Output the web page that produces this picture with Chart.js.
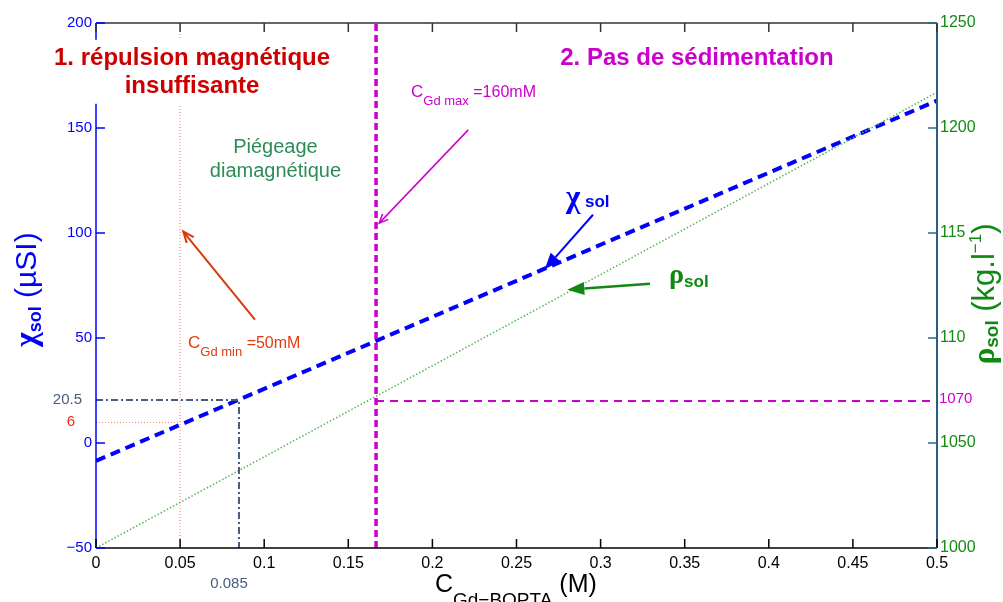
<!DOCTYPE html>
<html>
<head>
<meta charset="utf-8">
<script src="https://cdn.jsdelivr.net/npm/chart.js@4.4.0/dist/chart.umd.min.js"></script>
<style>
  html, body { margin: 0; padding: 0; background: #fff; }
</style>
</head>
<body>
<canvas id="chart" width="1003" height="602"></canvas>
<script>
// concentration C Gd-BOPTA (M)
const concentration = [0, 0.5]
// susceptibility chi sol (µSI), left axis
const chiSol = [-8.5, 163]
// density rho sol (kg/l), right axis
const rhoSol = [1000, 1217]

// marked values
const cGdMin = 0.05
const cGdMax = 0.1665
const cCross = 0.085
const chiAtMin = 9.8
const chiAtCross = 20.5
const rhoLimit = 1070

// tick values and labels
const xTicks = [0, 0.05, 0.1, 0.15, 0.2, 0.25, 0.3, 0.35, 0.4, 0.45, 0.5]
const xTickLabels = ['0', '0.05', '0.1', '0.15', '0.2', '0.25', '0.3', '0.35', '0.4', '0.45', '0.5']
const leftTicks = [-50, 0, 50, 100, 150, 200]
const leftTickLabels = ['\u221250', '0', '50', '100', '150', '200']
const rightTicks = [1000, 1050, 1100, 1150, 1200, 1250]
const rightTickLabels = ['1000', '1050', '110', '115', '1200', '1250']

const SANS = '"Liberation Sans", Arial, sans-serif'
const SERIF = '"Liberation Serif", "Times New Roman", serif'

function pts(xs, ys){
    return xs.map((x, i) => ({x: x, y: ys[i]}))
}

function rich(ctx, parts, x, y, align, color){
    let w = 0
    parts.forEach(p => { ctx.font = p.f; p.w = ctx.measureText(p.t).width; w += p.w })
    let cx = align === 'center' ? x - w / 2 : x
    ctx.fillStyle = color
    ctx.textAlign = 'left'
    ctx.textBaseline = 'alphabetic'
    parts.forEach(p => { ctx.font = p.f; ctx.fillText(p.t, cx, y + (p.dy || 0)); cx += p.w })
    return w
}

function arrow(ctx, x1, y1, x2, y2, color, width, headLen, headW, filled){
    const a = Math.atan2(y2 - y1, x2 - x1)
    ctx.save()
    ctx.strokeStyle = color
    ctx.fillStyle = color
    ctx.lineWidth = width
    ctx.setLineDash([])
    const bx = x2 - headLen * Math.cos(a), by = y2 - headLen * Math.sin(a)
    ctx.beginPath()
    ctx.moveTo(x1, y1)
    ctx.lineTo(filled ? bx : x2, filled ? by : y2)
    ctx.stroke()
    const nx = -Math.sin(a) * headW / 2, ny = Math.cos(a) * headW / 2
    ctx.beginPath()
    ctx.moveTo(bx + nx, by + ny)
    ctx.lineTo(x2, y2)
    ctx.lineTo(bx - nx, by - ny)
    if (filled){ ctx.closePath(); ctx.fill() } else ctx.stroke()
    ctx.restore()
}

const decorations = {
    id: 'decorations',
    afterDatasetsDraw(chart){
        const ctx = chart.ctx
        const {left, right, top, bottom} = chart.chartArea
        const sx = chart.scales.x, sy = chart.scales.y, sy1 = chart.scales.y1
        const px = v => sx.getPixelForValue(v)
        const py = v => sy.getPixelForValue(v)
        const py1 = v => sy1.getPixelForValue(v)
        ctx.save()
        ctx.setLineDash([])

        // frame
        ctx.lineWidth = 1.5
        ctx.strokeStyle = '#333'
        ctx.beginPath(); ctx.moveTo(left, top); ctx.lineTo(right, top); ctx.stroke()
        ctx.strokeStyle = '#000'
        ctx.beginPath(); ctx.moveTo(left, bottom); ctx.lineTo(right, bottom); ctx.stroke()
        ctx.strokeStyle = '#0000ff'
        ctx.beginPath(); ctx.moveTo(left, top); ctx.lineTo(left, bottom); ctx.stroke()
        ctx.strokeStyle = '#2a5f85'
        ctx.lineWidth = 2
        ctx.beginPath(); ctx.moveTo(right, top); ctx.lineTo(right, bottom); ctx.stroke()

        // inner tick marks
        ctx.lineWidth = 1.5
        xTicks.forEach(v => {
            const x = px(v)
            ctx.strokeStyle = '#333'
            ctx.beginPath(); ctx.moveTo(x, top); ctx.lineTo(x, top + 9); ctx.stroke()
            ctx.strokeStyle = '#000'
            ctx.beginPath(); ctx.moveTo(x, bottom); ctx.lineTo(x, bottom - 9); ctx.stroke()
        })
        ctx.strokeStyle = '#0000ff'
        leftTicks.forEach(v => {
            const y = py(v)
            ctx.beginPath(); ctx.moveTo(left, y); ctx.lineTo(left + 9, y); ctx.stroke()
        })
        ctx.strokeStyle = '#2a6a80'
        rightTicks.forEach(v => {
            const y = py1(v)
            ctx.beginPath(); ctx.moveTo(right, y); ctx.lineTo(right - 9, y); ctx.stroke()
        })

        // extra tick labels
        ctx.font = '15px ' + SANS
        ctx.textBaseline = 'middle'
        ctx.textAlign = 'right'
        ctx.fillStyle = '#4a5a80'
        ctx.fillText('20.5', left - 14, py(chiAtCross))
        ctx.fillStyle = '#ff2020'
        ctx.fillText('6', left - 21, py(chiAtMin) - 1)
        ctx.textAlign = 'left'
        ctx.fillStyle = '#cc00cc'
        ctx.fillText('1070', right + 2, py1(rhoLimit) - 2)
        ctx.textAlign = 'center'
        ctx.textBaseline = 'alphabetic'
        ctx.fillStyle = '#4a5a80'
        ctx.fillText('0.085', px(cCross) - 10, bottom + 40)

        // title 1 with white box
        ctx.font = 'bold 24px ' + SANS
        const t1x = px(0.0571)
        const w1 = ctx.measureText('1. répulsion magnétique').width
        ctx.fillStyle = '#fff'
        ctx.fillRect(t1x - w1 / 2 - 2, py(180.1) - 25, w1 + 4, 64)
        ctx.fillStyle = '#cc0000'
        ctx.fillText('1. répulsion magnétique', t1x, py(180.1))
        ctx.fillText('insuffisante', t1x, py(166.7))

        ctx.fillStyle = '#cc00cc'
        ctx.fillText('2. Pas de sédimentation', px(0.3573), py(180.1))

        ctx.font = '20px ' + SANS
        ctx.fillStyle = '#2e8b57'
        ctx.fillText('Piégeage', px(0.1067), py(138.2))
        ctx.fillText('diamagnétique', px(0.1067), py(126.8))

        // C Gd max / min
        rich(ctx, [
            {t: 'C', f: '17px ' + SANS},
            {t: 'Gd max', f: '13px ' + SANS, dy: 8},
            {t: ' =160mM', f: '16px ' + SANS}
        ], px(0.1873), py(164.7), 'left', '#cc00cc')
        rich(ctx, [
            {t: 'C', f: '17px ' + SANS},
            {t: 'Gd min', f: '13px ' + SANS, dy: 8},
            {t: ' =50mM', f: '16px ' + SANS}
        ], px(0.0547), py(45.4), 'left', '#e03c10')

        // series labels
        rich(ctx, [
            {t: 'χ', f: 'bold 31px ' + SERIF},
            {t: ' sol', f: 'bold 17px ' + SANS}
        ], px(0.2794), py(112.5), 'left', '#0000ff')
        rich(ctx, [
            {t: 'ρ', f: 'bold 28px ' + SERIF, dy: -4},
            {t: 'sol', f: 'bold 17px ' + SANS}
        ], px(0.3407), py(74.4), 'left', '#118811')

        // arrows
        arrow(ctx, px(0.2213), py(149.1), px(0.1684), py(104.7), '#cc00cc', 1.5, 9, 8, false)
        arrow(ctx, px(0.0945), py(58.7), px(0.0519), py(100.7), '#d83a10', 2, 11, 9, false)
        arrow(ctx, px(0.2955), py(108.7), px(0.2669), py(82.8), '#0000ff', 2, 16, 13, true)
        arrow(ctx, px(0.3294), py(75.8), px(0.2802), py(73.0), '#118811', 2.5, 17, 13, true)

        // axis titles
        ctx.save()
        ctx.translate(36, py(73))
        ctx.rotate(-Math.PI / 2)
        rich(ctx, [
            {t: 'χ', f: 'bold 32px ' + SERIF},
            {t: 'sol', f: 'bold 18px ' + SANS, dy: 5},
            {t: ' (µSI)', f: '30px ' + SANS}
        ], 0, 0, 'center', '#0000ff')
        ctx.restore()

        ctx.save()
        ctx.translate(994, py(71))
        ctx.rotate(-Math.PI / 2)
        rich(ctx, [
            {t: 'ρ', f: 'bold 31px ' + SERIF},
            {t: 'sol', f: 'bold 19px ' + SANS, dy: 4},
            {t: ' (kg.l', f: '31px ' + SANS},
            {t: '\u22121', f: '17px ' + SANS, dy: -13},
            {t: ')', f: '31px ' + SANS}
        ], 0, 0, 'center', '#118811')
        ctx.restore()

        rich(ctx, [
            {t: 'C', f: '25px ' + SANS},
            {t: 'Gd\u2212BOPTA', f: '19px ' + SANS, dy: 14},
            {t: ' (M)', f: '25px ' + SANS}
        ], px(0.2015), bottom + 44, 'left', '#000')

        ctx.restore()
    }
}

function lineSet(data, axis, color, width, dash){
    return {
        data: data,
        yAxisID: axis,
        borderColor: color,
        borderWidth: width,
        borderDash: dash,
        pointRadius: 0,
        tension: 0,
        fill: false
    }
}

new Chart(document.getElementById('chart'), {
    type: 'line',
    data: {
        datasets: [
            lineSet(pts([cGdMin, cGdMin], [-50, 200]), 'y', '#f08070', 1, [1, 2]),
            lineSet(pts([0, cGdMin], [chiAtMin, chiAtMin]), 'y', '#f08070', 1, [1, 2]),
            lineSet(pts([0, cCross, cCross], [chiAtCross, chiAtCross, -50]), 'y', '#4a5a80', 2, [7, 3, 2, 3]),
            lineSet(pts(concentration, rhoSol), 'y1', '#55b555', 1.5, [1.5, 2]),
            lineSet(pts([cGdMax, 0.5], [rhoLimit, rhoLimit]), 'y1', '#cc00cc', 2, [8, 6]),
            lineSet(pts([cGdMax, cGdMax], [-50, 200]), 'y', '#cc00cc', 3.5, [7, 4]),
            lineSet(pts(concentration, chiSol), 'y', '#0000ff', 4, [10, 6])
        ]
    },
    options: {
        responsive: false,
        animation: false,
        layout: {padding: {top: 23, left: 0, right: 0, bottom: 0}},
        plugins: {legend: {display: false}, tooltip: {enabled: false}},
        scales: {
            x: {
                type: 'linear',
                min: 0,
                max: 0.5,
                afterBuildTicks: s => { s.ticks = xTicks.map(v => ({value: v})) },
                afterFit: s => { s.height = 54 },
                grid: {display: false, drawTicks: false},
                border: {display: false},
                ticks: {
                    color: '#000',
                    padding: 6,
                    maxRotation: 0,
                    font: {family: SANS, size: 16},
                    callback: (v, i) => xTickLabels[i]
                }
            },
            y: {
                position: 'left',
                min: -50,
                max: 200,
                afterBuildTicks: s => { s.ticks = leftTicks.map(v => ({value: v})) },
                afterFit: s => { s.width = 96 },
                grid: {display: false, drawTicks: false},
                border: {display: false},
                ticks: {
                    color: '#0000ff',
                    padding: 4,
                    font: {family: SANS, size: 15},
                    callback: (v, i) => leftTickLabels[i]
                }
            },
            y1: {
                position: 'right',
                min: 1000,
                max: 1250,
                afterBuildTicks: s => { s.ticks = rightTicks.map(v => ({value: v})) },
                afterFit: s => { s.width = 66 },
                grid: {display: false, drawTicks: false},
                border: {display: false},
                ticks: {
                    color: '#138a13',
                    padding: 3,
                    font: {family: SANS, size: 16},
                    callback: (v, i) => rightTickLabels[i]
                }
            }
        }
    },
    plugins: [decorations]
})
</script>
</body>
</html>
